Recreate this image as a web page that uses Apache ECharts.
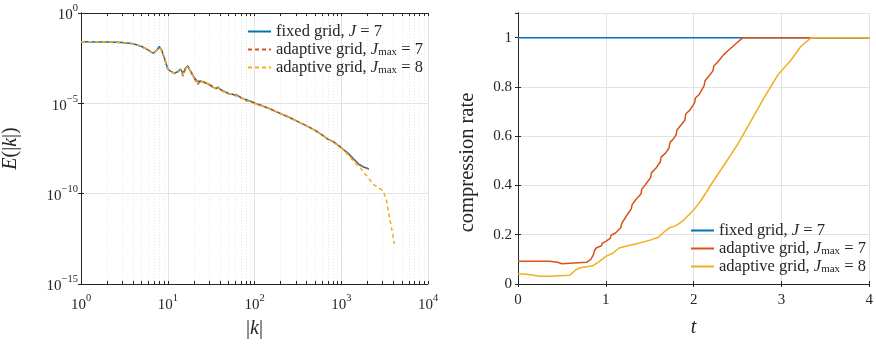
<!DOCTYPE html>
<html>
<head>
<meta charset="utf-8">
<script src="https://cdn.jsdelivr.net/npm/echarts@6/dist/echarts.min.js"></script>
<style>
  html, body { margin: 0; padding: 0; background: #fff; }
  #chart { width: 876px; height: 344px; }
</style>
</head>
<body>
<div id="chart"></div>
<script>
// left panel: energy spectrum E(|k|)
const kFixed = [1, 2, 3, 4, 5, 6, 6.8, 7.5, 8, 8.5, 9.3, 10, 11, 12, 13, 14, 15, 16, 17, 18, 20, 22, 24, 26, 28, 30, 33, 36, 38, 40, 45, 50, 55, 60, 65, 70, 80, 90, 100, 120, 150, 200, 250, 300, 400, 500, 600, 700, 800, 1000, 1200, 1400, 1600, 1800, 2000, 2080];
const eFixed = [2.6e-2, 2.5e-2, 2.3e-2, 2.0e-2, 1.4e-2, 8.9e-3, 5.9e-3, 8.9e-3, 1.4e-2, 8.9e-3, 2.5e-3, 7.9e-4, 5.6e-4, 4.7e-4, 5.6e-4, 7.9e-4, 4.5e-4, 8.9e-4, 1.2e-3, 7.1e-4, 2.8e-4, 1.6e-4, 1.7e-4, 1.4e-4, 1.3e-4, 1.1e-4, 7.9e-5, 6.6e-5, 7.9e-5, 6.0e-5, 4.5e-5, 3.5e-5, 3.3e-5, 2.8e-5, 2.6e-5, 2.0e-5, 1.6e-5, 1.3e-5, 1.05e-5, 7.6e-6, 5.0e-6, 2.7e-6, 1.7e-6, 1.1e-6, 5.6e-7, 3.2e-7, 1.8e-7, 1.05e-7, 7.9e-8, 3.5e-8, 1.7e-8, 7.9e-9, 4.2e-9, 3.0e-9, 2.5e-9, 2.3e-9];

const kAdapt7 = [1, 2, 3, 4, 5, 6, 6.8, 7.5, 8, 8.5, 9.3, 10, 11, 12, 13, 14, 15, 16, 17, 18, 20, 22, 24, 26, 28, 30, 33, 36, 38, 40, 45, 50, 55, 60, 65, 70, 80, 90, 100, 120, 150, 200, 250, 300, 400, 500, 600, 700, 800, 1000, 1200, 1400, 1600, 1800, 2000, 2080];
const eAdapt7 = [2.6e-2, 2.5e-2, 2.3e-2, 2.0e-2, 1.4e-2, 8.9e-3, 6.0e-3, 8.9e-3, 1.3e-2, 8.5e-3, 2.4e-3, 7.9e-4, 5.6e-4, 4.5e-4, 5.3e-4, 7.5e-4, 3.2e-4, 8.5e-4, 1.1e-3, 7.1e-4, 2.8e-4, 1.1e-4, 1.7e-4, 1.6e-4, 1.2e-4, 1.1e-4, 8.9e-5, 6.6e-5, 7.5e-5, 6.0e-5, 4.0e-5, 3.5e-5, 2.8e-5, 2.8e-5, 3.0e-5, 2.0e-5, 1.4e-5, 1.4e-5, 1.0e-5, 7.6e-6, 5.0e-6, 2.7e-6, 1.7e-6, 1.1e-6, 5.6e-7, 3.2e-7, 1.8e-7, 1.05e-7, 7.9e-8, 3.5e-8, 1.7e-8, 7.9e-9, 4.2e-9, 3.0e-9, 2.5e-9, 2.3e-9];

const kAdapt8 = [1, 2, 3, 4, 5, 6, 6.8, 7.5, 8, 8.5, 9.3, 10, 11, 12, 13, 14, 15, 16, 17, 18, 20, 22, 24, 26, 28, 30, 33, 36, 38, 40, 45, 50, 55, 60, 65, 70, 80, 90, 100, 120, 150, 200, 250, 300, 400, 500, 600, 700, 800, 1000, 1200, 1400, 1660, 1980, 2370, 2590, 2945, 3076, 3310, 3510, 3770, 4000, 4110];
const eAdapt8 = [2.6e-2, 2.5e-2, 2.3e-2, 2.0e-2, 1.4e-2, 8.9e-3, 5.8e-3, 9.2e-3, 1.3e-2, 9.0e-3, 2.6e-3, 7.5e-4, 5.4e-4, 4.7e-4, 5.0e-4, 7.0e-4, 4.0e-4, 8.0e-4, 1.2e-3, 6.6e-4, 2.6e-4, 1.4e-4, 1.9e-4, 1.3e-4, 1.4e-4, 1.0e-4, 8.5e-5, 6.3e-5, 8.5e-5, 5.6e-5, 4.5e-5, 3.2e-5, 3.5e-5, 2.6e-5, 2.5e-5, 2.1e-5, 1.5e-5, 1.2e-5, 1.0e-5, 7.4e-6, 5.0e-6, 2.7e-6, 1.7e-6, 1.1e-6, 5.6e-7, 3.2e-7, 1.8e-7, 1.0e-7, 7.6e-8, 3.4e-8, 1.4e-8, 6.0e-9, 2.6e-9, 9.1e-10, 3.2e-10, 2.4e-10, 1.6e-10, 1.2e-10, 4.7e-11, 8.5e-12, 1.6e-12, 2.9e-13, 1.7e-13];

// right panel: compression rate over time
const tFixed = [0, 4];
const cFixed = [1, 1];
const tAdapt7 = [0, 0.36, 0.45, 0.5, 0.78, 0.83, 0.86, 0.87, 0.89, 0.95, 0.96, 1.0, 1.05, 1.06, 1.11, 1.17, 1.18, 1.23, 1.29, 1.3, 1.34, 1.4, 1.41, 1.45, 1.51, 1.52, 1.57, 1.62, 1.63, 1.68, 1.72, 1.73, 1.76, 1.8, 1.81, 1.83, 1.9, 1.91, 1.96, 2.01, 2.02, 2.06, 2.12, 2.13, 2.17, 2.22, 2.23, 2.28, 2.34, 2.4, 2.48, 2.56, 4];
const cAdapt7 = [0.092, 0.092, 0.088, 0.082, 0.088, 0.10, 0.12, 0.135, 0.146, 0.155, 0.165, 0.173, 0.185, 0.198, 0.207, 0.228, 0.245, 0.274, 0.305, 0.322, 0.342, 0.365, 0.385, 0.403, 0.432, 0.452, 0.47, 0.495, 0.515, 0.531, 0.552, 0.575, 0.585, 0.605, 0.625, 0.632, 0.665, 0.69, 0.707, 0.735, 0.755, 0.768, 0.805, 0.825, 0.842, 0.865, 0.885, 0.903, 0.93, 0.95, 0.975, 1, 1];
const tAdapt8 = [0, 0.1, 0.25, 0.36, 0.59, 0.65, 0.70, 0.85, 0.92, 1.0, 1.08, 1.15, 1.25, 1.34, 1.45, 1.52, 1.6, 1.66, 1.72, 1.8, 1.87, 2.0, 2.09, 2.21, 2.36, 2.51, 2.66, 2.81, 2.96, 3.11, 3.22, 3.34, 4];
const cAdapt8 = [0.042, 0.04, 0.031, 0.031, 0.036, 0.055, 0.065, 0.074, 0.09, 0.112, 0.125, 0.146, 0.155, 0.162, 0.173, 0.18, 0.19, 0.21, 0.227, 0.237, 0.254, 0.30, 0.342, 0.41, 0.49, 0.572, 0.666, 0.761, 0.849, 0.909, 0.964, 1, 1];

const seriesNames = ['fixed grid, J = 7', 'adaptive grid, Jmax = 7', 'adaptive grid, Jmax = 8'];
const legendLabels = ['{n|fixed grid, }{i|J}{n| = 7}', '{n|adaptive grid, }{i|J}{sub|max}{n| = 7}', '{n|adaptive grid, }{i|J}{sub|max}{n| = 8}'];
const decades = [0, 1, 2, 3];
const minorMults = [2, 3, 4, 5, 6, 7, 8, 9];

const BLUE = '#0072BD', ORANGE = '#D95319', YELLOW = '#EDB120';
const INK = '#262626';
const FONT = 'Liberation Serif';

function zip(xs, ys) { return xs.map((x, i) => [x, ys[i]]); }

// minor tick positions on the log10 helper axis
const minorPos = [];
decades.forEach(d => minorMults.forEach(m => minorPos.push(d + Math.log10(m))));
const allPos = minorPos.concat([0, 1, 2, 3, 4]);

const supRich = {
  b: { fontSize: 15, fontFamily: FONT, color: INK, lineHeight: 20, verticalAlign: 'bottom' },
  s: { fontSize: 10.5, fontFamily: FONT, color: INK, lineHeight: 10, verticalAlign: 'top' }
};
function powLabel(v) {
  const e = Math.round(Math.log10(v));
  return '{b|10}{s|' + (e < 0 ? '\u2212' + (-e) : e) + '}';
}

const legendRich = {
  n: { fontSize: 16.5, lineHeight: 16.5, fontFamily: FONT, color: INK },
  i: { fontStyle: 'italic', fontSize: 16.5, lineHeight: 16.5, fontFamily: FONT, color: INK },
  sub: { fontSize: 11, fontFamily: FONT, color: INK, lineHeight: 10, verticalAlign: 'bottom' }
};
function legendFmt(name) { return legendLabels[seriesNames.indexOf(name)]; }

const axisLine = { show: true, lineStyle: { color: INK, width: 1 } };
const tickIn = { show: true, inside: true, length: 3, lineStyle: { color: INK } };
const majorGrid = { show: true, lineStyle: { color: '#e3e3e3', width: 1 } };
const nameRich = {
  n: { fontFamily: FONT, fontSize: 20, color: INK },
  i: { fontStyle: 'italic', fontFamily: FONT, fontSize: 20, color: INK }
};

const chart = echarts.init(document.getElementById('chart'), null, { renderer: 'canvas' });
chart.setOption({
  animation: false,
  backgroundColor: '#fff',
  grid: [
    { left: 79, top: 13, width: 349, height: 271 },
    { left: 518, top: 13, width: 354, height: 271 }
  ],
  legend: [
    {
      orient: 'vertical', left: 247, top: 23, padding: 0, itemWidth: 23, itemHeight: 14, itemGap: 1,
      data: seriesNames, formatter: legendFmt, itemStyle: { opacity: 0 },
      textStyle: { fontFamily: FONT, fontSize: 16.5, color: INK, rich: legendRich }
    },
    {
      orient: 'vertical', left: 690, top: 222, padding: 0, itemWidth: 23, itemHeight: 14, itemGap: 1,
      data: seriesNames.map(n => ({ name: n, lineStyle: { type: 'solid' } })), formatter: legendFmt,
      itemStyle: { opacity: 0 },
      textStyle: { fontFamily: FONT, fontSize: 16.5, color: INK, rich: legendRich }
    }
  ],
  xAxis: [
    {
      type: 'log', gridIndex: 0, position: 'bottom', min: 1, max: 10000, logBase: 10,
      axisLine: axisLine, axisTick: tickIn, splitLine: majorGrid,
      axisLabel: { margin: 9, formatter: powLabel, rich: supRich },
      name: '{n||}{i|k}{n||}', nameLocation: 'middle', nameGap: 35,
      nameTextStyle: { fontFamily: FONT, fontSize: 20, color: INK, rich: nameRich }
    },
    {
      type: 'value', gridIndex: 0, position: 'bottom', min: 0, max: 4,
      axisLine: { show: false }, axisLabel: { show: false },
      axisTick: Object.assign({}, tickIn, { customValues: minorPos }),
      splitLine: { show: true, lineStyle: { color: '#e6e6e6', type: [1, 2] } }
    },
    {
      type: 'value', gridIndex: 0, position: 'top', min: 0, max: 4,
      axisLine: axisLine, axisLabel: { show: false },
      axisTick: Object.assign({}, tickIn, { customValues: allPos }),
      splitLine: { show: false }
    },
    {
      type: 'value', gridIndex: 1, position: 'bottom', min: 0, max: 4, interval: 1,
      axisLine: axisLine, axisTick: tickIn, splitLine: majorGrid,
      axisLabel: { margin: 9, fontFamily: FONT, fontSize: 15, color: INK },
      name: '{i|t}', nameLocation: 'middle', nameGap: 34,
      nameTextStyle: { fontFamily: FONT, fontSize: 20, color: INK, rich: nameRich }
    },
    {
      type: 'value', gridIndex: 1, position: 'top', min: 0, max: 4, interval: 1,
      axisLine: axisLine, axisTick: tickIn, axisLabel: { show: false }, splitLine: { show: false }
    }
  ],
  yAxis: [
    {
      type: 'log', gridIndex: 0, position: 'left', min: 1e-15, max: 1, logBase: 10, interval: 5,
      axisLine: axisLine, axisTick: tickIn, splitLine: majorGrid,
      axisLabel: { margin: 3, formatter: powLabel, rich: supRich },
      name: '{i|E}{n|(|}{i|k}{n||)}', nameLocation: 'middle', nameGap: 60,
      nameTextStyle: { fontFamily: FONT, fontSize: 20, color: INK, rich: nameRich }
    },
    {
      type: 'log', gridIndex: 0, position: 'right', min: 1e-15, max: 1, logBase: 10, interval: 5,
      axisLine: axisLine, axisTick: tickIn, axisLabel: { show: false }, splitLine: { show: false }
    },
    {
      type: 'value', gridIndex: 1, position: 'left', min: 0, max: 1.1, interval: 0.2,
      axisLine: axisLine, axisTick: tickIn, splitLine: majorGrid,
      axisLabel: { margin: 6, fontFamily: FONT, fontSize: 15, color: INK, showMaxLabel: false },
      name: 'compression rate', nameLocation: 'middle', nameGap: 40,
      nameTextStyle: { fontFamily: FONT, fontSize: 20.5, color: INK, padding: [0, 28, 0, 0] }
    },
    {
      type: 'value', gridIndex: 1, position: 'right', min: 0, max: 1.1, interval: 0.2,
      axisLine: axisLine, axisTick: tickIn, axisLabel: { show: false }, splitLine: { show: false }
    }
  ],
  series: [
    {
      name: seriesNames[0], type: 'line', xAxisIndex: 0, yAxisIndex: 0, symbol: 'none',
      lineStyle: { color: BLUE, width: 1.5 }, itemStyle: { color: BLUE },
      data: zip(kFixed, eFixed)
    },
    {
      name: seriesNames[1], type: 'line', xAxisIndex: 0, yAxisIndex: 0, symbol: 'none',
      lineStyle: { color: ORANGE, width: 1.5, type: [4, 3] }, itemStyle: { color: ORANGE },
      data: zip(kAdapt7, eAdapt7)
    },
    {
      name: seriesNames[2], type: 'line', xAxisIndex: 0, yAxisIndex: 0, symbol: 'none',
      lineStyle: { color: YELLOW, width: 1.5, type: [4, 3] }, itemStyle: { color: YELLOW },
      data: zip(kAdapt8, eAdapt8)
    },
    {
      name: seriesNames[0], type: 'line', xAxisIndex: 3, yAxisIndex: 2, symbol: 'none',
      lineStyle: { color: BLUE, width: 1.5 }, itemStyle: { color: BLUE },
      data: zip(tFixed, cFixed)
    },
    {
      name: seriesNames[1], type: 'line', xAxisIndex: 3, yAxisIndex: 2, symbol: 'none',
      lineStyle: { color: ORANGE, width: 1.5 }, itemStyle: { color: ORANGE },
      data: zip(tAdapt7, cAdapt7)
    },
    {
      name: seriesNames[2], type: 'line', xAxisIndex: 3, yAxisIndex: 2, symbol: 'none',
      lineStyle: { color: YELLOW, width: 1.5 }, itemStyle: { color: YELLOW },
      data: zip(tAdapt8, cAdapt8)
    }
  ]
});
</script>
</body>
</html>
